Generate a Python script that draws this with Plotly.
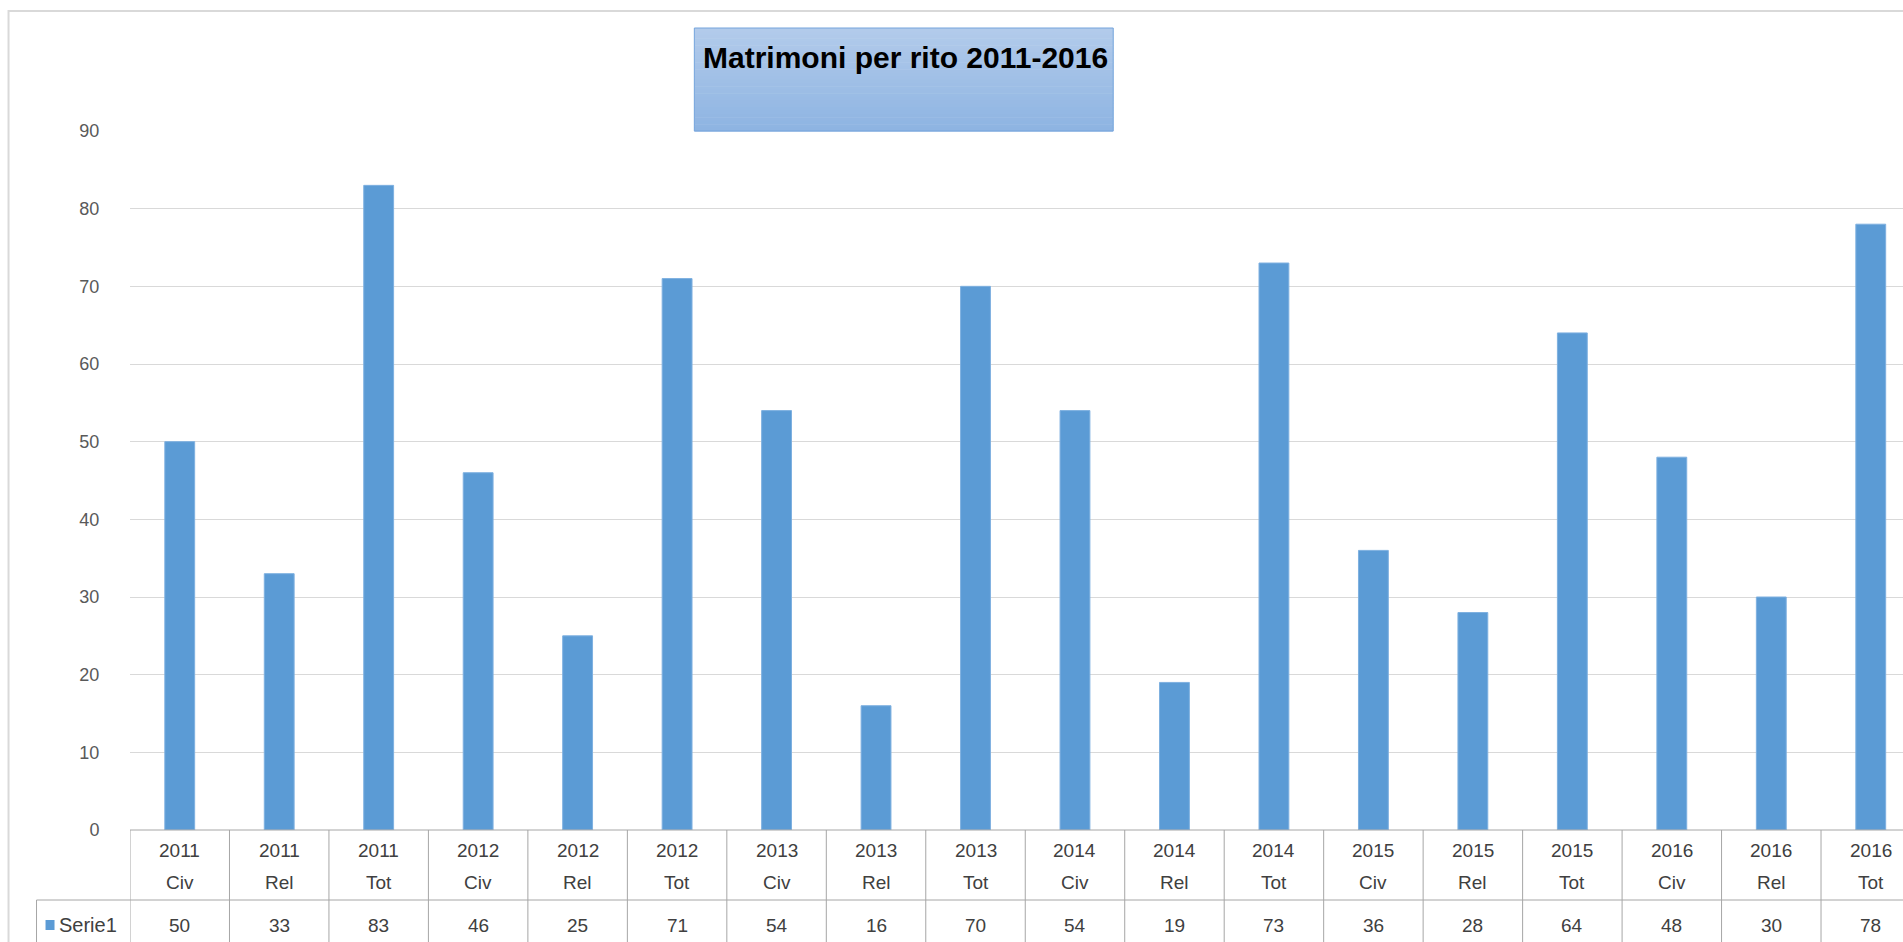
import plotly.graph_objects as go

# ---- data ----
anni = ["2011", "2012", "2013", "2014", "2015", "2016"]
riti = ["Civ", "Rel", "Tot"]
valori = [50, 33, 83, 46, 25, 71, 54, 16, 70, 54, 19, 73, 36, 28, 64, 48, 30, 78]
serie_nome = "Serie1"
titolo = "Matrimoni per rito 2011-2016"
y_ticks = [0, 10, 20, 30, 40, 50, 60, 70, 80, 90]

cat_anno = [a for a in anni for _ in riti]
cat_rito = [r for _ in anni for r in riti]
categorie = [f"{a} {r}" for a, r in zip(cat_anno, cat_rito)]

# ---- layout geometry (pixels) ----
W, H = 1903, 942
L, R, T, B = 129.5, 0, 131, 112
PW = W - L - R
PH = H - T - B
Y0PX = H - B  # pixel y of value 0
CAT_W = 99.5  # pixel width of one category


def px_x(px):
    return (px - L) / PW


def px_y(py):
    return (Y0PX - py) / PH


FONT = "Liberation Sans Narrow, Arial Narrow, Liberation Sans, Arial, sans-serif"
BAR = "#5b9bd5"
GRID = "#d9d9d9"
TABLE = "#a6a6a6"
TXT = "#404040"

fig = go.Figure()
fig.add_trace(go.Bar(
    x=categorie, y=valori, name=serie_nome,
    marker=dict(color=BAR, line=dict(color="#7eb0e0", width=1)),
    width=0.30, showlegend=False,
))

shapes = []
annotations = []

# outer chart border
shapes.append(dict(type="rect", xref="paper", yref="paper",
                   x0=px_x(8), x1=px_x(1920), y0=px_y(960), y1=px_y(11),
                   line=dict(color="#d9d9d9", width=2), fillcolor="rgba(0,0,0,0)", layer="below"))

# title box with vertical gradient
bx0, bx1, by0, by1 = 694, 1113, 28, 131
n = 30
c_top = (178, 203, 235)
c_bot = (142, 180, 226)
for i in range(n):
    t = i / (n - 1)
    c = tuple(int(round(c_top[k] + (c_bot[k] - c_top[k]) * t)) for k in range(3))
    ya = by0 + (by1 - by0) * i / n
    yb = by0 + (by1 - by0) * (i + 1) / n
    shapes.append(dict(type="rect", xref="paper", yref="paper",
                       x0=px_x(bx0), x1=px_x(bx1), y0=px_y(yb + 0.5), y1=px_y(ya),
                       line=dict(width=0), fillcolor=f"rgb{c}", layer="above"))
shapes.append(dict(type="rect", xref="paper", yref="paper",
                   x0=px_x(bx0), x1=px_x(bx1), y0=px_y(by1), y1=px_y(by0),
                   line=dict(color="#74a4dc", width=1), fillcolor="rgba(0,0,0,0)", layer="above"))
annotations.append(dict(text=f"<b>{titolo}</b>", xref="paper", yref="paper",
                        x=px_x(905), y=px_y(58), xanchor="center", yanchor="middle",
                        showarrow=False, font=dict(family=FONT, size=30, color="#000000")))

# data table lines
ncat = len(categorie)
for i in range(ncat + 1):
    shapes.append(dict(type="line", xref="x", yref="paper",
                       x0=i - 0.5, x1=i - 0.5, y0=px_y(830), y1=px_y(960),
                       line=dict(color=TABLE, width=1)))
shapes.append(dict(type="line", xref="paper", yref="paper",
                   x0=0, x1=1.02, y0=px_y(830), y1=px_y(830),
                   line=dict(color=TABLE, width=1)))
shapes.append(dict(type="line", xref="paper", yref="paper",
                   x0=px_x(36), x1=1.02, y0=px_y(900), y1=px_y(900),
                   line=dict(color=TABLE, width=1)))
shapes.append(dict(type="line", xref="paper", yref="paper",
                   x0=px_x(36), x1=px_x(36), y0=px_y(900), y1=px_y(960),
                   line=dict(color=TABLE, width=1)))

# legend key in table
shapes.append(dict(type="rect", xref="paper", yref="paper",
                   x0=px_x(45), x1=px_x(54), y0=px_y(930), y1=px_y(920),
                   line=dict(width=0), fillcolor=BAR))
annotations.append(dict(text=serie_nome, xref="paper", yref="paper",
                        x=px_x(56), y=px_y(925), xanchor="left", yanchor="middle",
                        showarrow=False, font=dict(family=FONT, size=20, color=TXT)))

# table cells
for cat, a, r, v in zip(categorie, cat_anno, cat_rito, valori):
    annotations.append(dict(text=a, xref="x", yref="paper", x=cat, y=px_y(850),
                            xanchor="center", yanchor="middle", showarrow=False,
                            font=dict(family=FONT, size=19, color=TXT)))
    annotations.append(dict(text=r, xref="x", yref="paper", x=cat, y=px_y(882),
                            xanchor="center", yanchor="middle", showarrow=False,
                            font=dict(family=FONT, size=19, color=TXT)))
    annotations.append(dict(text=str(v), xref="x", yref="paper", x=cat, y=px_y(925),
                            xanchor="center", yanchor="middle", showarrow=False,
                            font=dict(family=FONT, size=19, color=TXT)))

fig.update_layout(
    width=W, height=H,
    margin=dict(l=L, r=R, t=T, b=B, pad=0),
    paper_bgcolor="white", plot_bgcolor="white",
    bargap=0.7,
    xaxis=dict(type="category", range=[-0.5, PW / CAT_W - 0.5],
               showticklabels=False, showgrid=False, zeroline=False, showline=False,
               ticks="", fixedrange=True),
    yaxis=dict(range=[0, 90], tickvals=y_ticks, showgrid=True, gridcolor=GRID, gridwidth=1,
               zeroline=False, showline=False, ticks="outside", ticklen=26,
               tickcolor="rgba(0,0,0,0)",
               tickfont=dict(family=FONT, size=18, color="#595959"), fixedrange=True),
    shapes=shapes, annotations=annotations,
    showlegend=False,
)

fig.write_html(
    "out.html",
    config={"displayModeBar": False},
    post_script="document.body.style.margin='0';document.body.style.overflow='hidden';",
)
